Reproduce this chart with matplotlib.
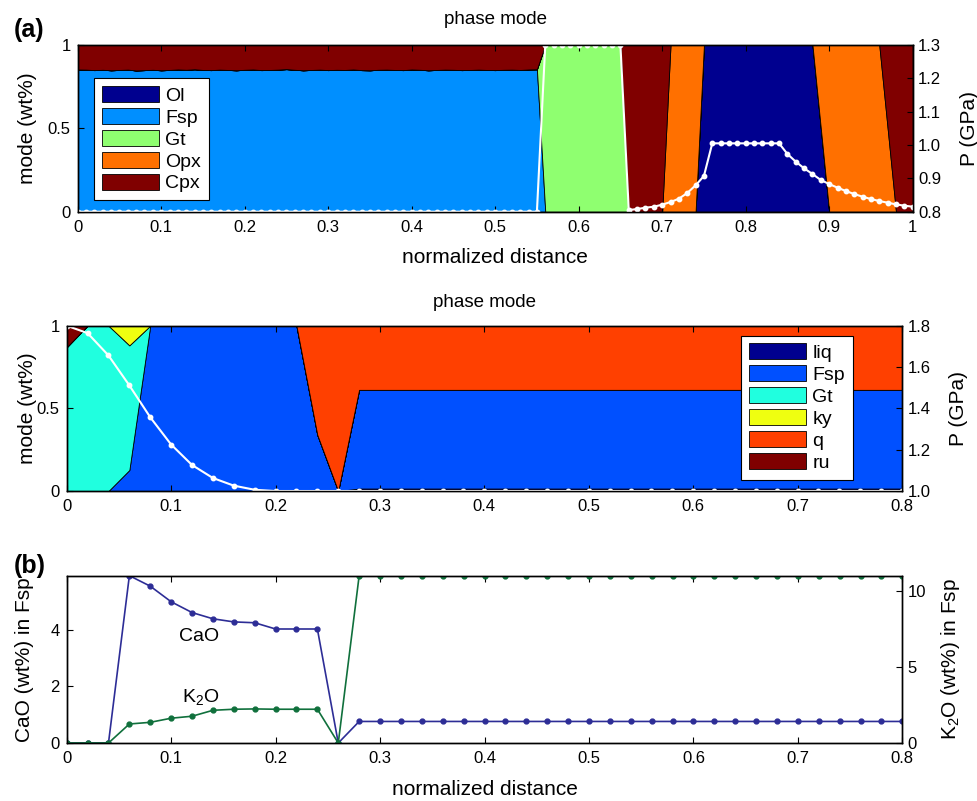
import numpy as np
import matplotlib
matplotlib.use('Agg')
import matplotlib.pyplot as plt

plt.rcParams['font.family'] = ['Liberation Sans', 'DejaVu Sans']
plt.rcParams['mathtext.fontset'] = 'custom'
plt.rcParams['mathtext.rm'] = 'Liberation Sans'
plt.rcParams['axes.linewidth'] = 1.0

# ---- (a) upper profile, sampled every 0.01 of normalized distance ----
dist_a = np.linspace(0, 1, 101)
fsp_edge = [0.853, 0.852, 0.849, 0.851, 0.848, 0.850, 0.852, 0.847, 0.849, 0.851,
            0.848, 0.850, 0.853, 0.851, 0.854, 0.850, 0.849, 0.852, 0.850, 0.848,
            0.851, 0.853, 0.849, 0.850, 0.852, 0.855, 0.851, 0.848, 0.850, 0.852,
            0.849, 0.851, 0.850, 0.853, 0.849, 0.848, 0.851, 0.852, 0.850, 0.849,
            0.853, 0.851, 0.848, 0.850, 0.852, 0.851, 0.849, 0.850, 0.852, 0.850,
            0.849, 0.851, 0.852, 0.850, 0.853, 0.854]
ol_a = [0.0] * 75 + [1.0] * 14 + [0.5] + [0.0] * 11
fsp_a = fsp_edge + [0.0] * 45
gt_a = [0.0] * 56 + [1.0] * 10 + [0.0] * 35
opx_a = [0.0] * 71 + [1.0] * 4 + [0.0] * 14 + [0.5] + [1.0] * 7 + [0.5] + [0.0] * 3
cpx_a = [round(1 - v, 3) for v in fsp_edge] + [0.0] * 10 + [1.0] * 5 + [0.0] * 26 + [0.5] + [1.0] * 3
p_a = ([0.8] * 56 + [1.3] * 10
       + [0.805, 0.808, 0.812, 0.815, 0.821, 0.829, 0.839, 0.856, 0.879, 0.907]
       + [1.005] * 9
       + [0.973, 0.950, 0.930, 0.913, 0.895, 0.883, 0.872, 0.862, 0.853, 0.845,
          0.838, 0.832, 0.827, 0.822, 0.818, 0.815])
phases_a = ['Ol', 'Fsp', 'Gt', 'Opx', 'Cpx']
colors_a = ['#00008F', '#008FFF', '#8FFF70', '#FF7000', '#800000']

# ---- second profile, sampled every 0.02 ----
dist_b = np.linspace(0, 0.8, 41)
liq_b = [0.0] * 14 + [0.015] * 27
fsp_b = [0.0, 0.0, 0.0, 0.127] + [1.0] * 8 + [0.34, 0.0] + [0.597] * 27
gt_b = [0.87, 1.0, 1.0, 0.754] + [0.0] * 37
ky_b = [0.0, 0.0, 0.0, 0.119] + [0.0] * 37
q_b = [0.0] * 12 + [0.66, 1.0] + [0.388] * 27
ru_b = [0.13] + [0.0] * 40
p_b = [1.8, 1.764, 1.656, 1.511, 1.357, 1.225, 1.126, 1.063, 1.026, 1.006] + [1.0] * 31
phases_b = ['liq', 'Fsp', 'Gt', 'ky', 'q', 'ru']
colors_b = ['#00008F', '#0050FF', '#20FFDF', '#EFFF10', '#FF4000', '#800000']

# ---- (b) feldspar composition along the same profile ----
cao = [0, 0, 0, 5.9, 5.53, 4.98, 4.6, 4.38, 4.27, 4.24, 4.02, 4.02, 4.02, 0] + [0.76] * 27
k2o = [0, 0, 0, 1.25, 1.36, 1.63, 1.76, 2.15, 2.22, 2.24, 2.22, 2.22, 2.22, 0] + [11.0] * 27

xt_a = [0, 0.1, 0.2, 0.3, 0.4, 0.5, 0.6, 0.7, 0.8, 0.9, 1]
xt_a_lbl = ['0', '0.1', '0.2', '0.3', '0.4', '0.5', '0.6', '0.7', '0.8', '0.9', '1']
xt_b = [0, 0.1, 0.2, 0.3, 0.4, 0.5, 0.6, 0.7, 0.8]
xt_b_lbl = ['0', '0.1', '0.2', '0.3', '0.4', '0.5', '0.6', '0.7', '0.8']
mode_t = [0, 0.5, 1]
mode_lbl = ['0', '0.5', '1']
pa_t = [0.8, 0.9, 1.0, 1.1, 1.2, 1.3]
pa_lbl = ['0.8', '0.9', '1.0', '1.1', '1.2', '1.3']
pb_t = [1.0, 1.2, 1.4, 1.6, 1.8]
pb_lbl = ['1.0', '1.2', '1.4', '1.6', '1.8']
cao_t = [0, 2, 4]
cao_lbl = ['0', '2', '4']
k2o_t = [0, 5, 10]
k2o_lbl = ['0', '5', '10']

TICK = 12
LAB = 15


def style(ax, side):
    ax.tick_params(direction='in', length=4.5, width=0.8, labelsize=TICK)
    if side == 'left':
        ax.tick_params(axis='x', top=True, pad=6)
        ax.tick_params(axis='y', left=True, right=False, pad=5)
    else:
        ax.tick_params(axis='y', right=True, left=False, pad=4)


def phase_panel(ax, dist, layers, labels, colors, pres, plim, pt, plbl, xt, xlbl,
                leg_anchor, leg_loc, title_y):
    ax.stackplot(dist, *layers, labels=labels, colors=colors,
                 edgecolor='k', linewidth=0.6)
    ax.set_xlim(dist[0], dist[-1])
    ax.set_ylim(0, 1)
    ax.set_xticks(xt)
    ax.set_xticklabels(xlbl)
    ax.set_yticks(mode_t)
    ax.set_yticklabels(mode_lbl)
    ax.set_ylabel('mode (wt%)', fontsize=LAB, va='center')
    ax.set_title('phase mode', fontsize=13.5, y=title_y, va='center', pad=0)
    style(ax, 'left')

    tw = ax.twinx()
    tw.plot(dist, pres, '-o', color='white', lw=1.5, ms=3.2, mfc='white', mec='white')
    tw.set_ylim(*plim)
    tw.set_yticks(pt)
    tw.set_yticklabels(plbl)
    tw.set_ylabel('P (GPa)', fontsize=LAB, va='center')
    style(tw, 'right')

    handles, names = ax.get_legend_handles_labels()
    leg = tw.legend(handles, names, loc=leg_loc, bbox_to_anchor=leg_anchor,
                    borderaxespad=0, fontsize=14, handlelength=2.95, handleheight=0.85,
                    labelspacing=0.18, handletextpad=0.3, borderpad=0.4,
                    fancybox=False, framealpha=1, edgecolor='black')
    leg.get_frame().set_linewidth(0.8)
    return tw


fig = plt.figure(figsize=(9.78, 8.01), dpi=100)

ax1 = fig.add_axes([0.0794, 0.7357, 0.8538, 0.2082])
tw1 = phase_panel(ax1, dist_a, [ol_a, fsp_a, gt_a, opx_a, cpx_a], phases_a, colors_a,
                  p_a, (0.8, 1.3), pa_t, pa_lbl, xt_a, xt_a_lbl,
                  (0.02, 0.8), 'upper left', 1.15)
ax1.set_xlabel('normalized distance', fontsize=LAB, va='center')
ax1.xaxis.set_label_coords(0.5, -0.272)
ax1.yaxis.set_label_coords(-0.060, 0.5)
tw1.yaxis.set_label_coords(1.068, 0.5)

ax2 = fig.add_axes([0.0682, 0.3870, 0.8541, 0.2064])
tw2 = phase_panel(ax2, dist_b, [liq_b, fsp_b, gt_b, ky_b, q_b, ru_b], phases_b, colors_b,
                  p_b, (1.0, 1.8), pb_t, pb_lbl, xt_b, xt_b_lbl,
                  (0.941, 0.9395), 'upper right', 1.143)
ax2.yaxis.set_label_coords(-0.047, 0.5)
tw2.yaxis.set_label_coords(1.068, 0.5)

# feldspar composition, CaO on the left axis and K2O on the right
ax3 = fig.add_axes([0.0682, 0.0724, 0.8544, 0.2089])
ax3.plot(dist_b, cao, '-o', color='#2D2D96', lw=1.2, ms=3.5)
ax3.set_xlim(0, 0.8)
ax3.set_ylim(0, max(cao))
ax3.set_xticks(xt_b)
ax3.set_xticklabels(xt_b_lbl)
ax3.set_yticks(cao_t)
ax3.set_yticklabels(cao_lbl)
ax3.set_ylabel('CaO (wt%) in Fsp', fontsize=LAB, va='center')
ax3.yaxis.set_label_coords(-0.051, 0.5)
ax3.set_xlabel('normalized distance', fontsize=LAB, va='center')
ax3.xaxis.set_label_coords(0.5, -0.275)
style(ax3, 'left')
ax3.text(0.127, 3.74, 'CaO', fontsize=14, ha='center', va='center')
ax3.text(0.128, 1.59, r'K$_{\mathrm{2}}$O', fontsize=14, ha='center', va='center')

tw3 = ax3.twinx()
tw3.plot(dist_b, k2o, '-o', color='#10703C', lw=1.2, ms=3.5)
tw3.set_ylim(0, max(k2o))
tw3.set_yticks(k2o_t)
tw3.set_yticklabels(k2o_lbl)
tw3.set_ylabel(r'K$_{\mathrm{2}}$O (wt%) in Fsp', fontsize=LAB, va='center')
tw3.yaxis.set_label_coords(1.058, 0.5)
style(tw3, 'right')

fig.text(14 / 978, 1 - 30 / 801, '(a)', fontsize=18, fontweight='bold', va='center')
fig.text(14 / 978, 1 - 566 / 801, '(b)', fontsize=18, fontweight='bold', va='center')

fig.savefig('out.png', dpi=100)
